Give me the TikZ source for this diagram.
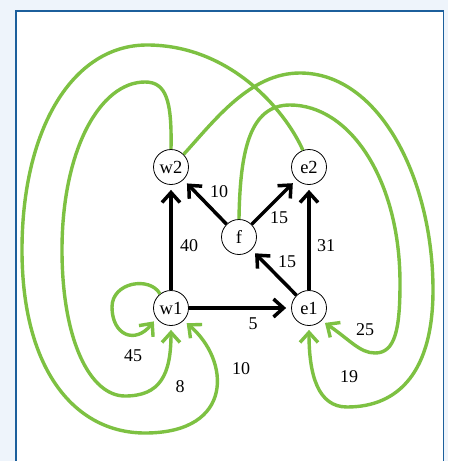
\documentclass[tikz,border=0pt]{standalone}
\usepackage{fontspec}
\setmainfont{Liberation Serif}
\usetikzlibrary{arrows.meta}
\definecolor{bgblue}{RGB}{238,244,251}
\definecolor{frameblue}{RGB}{28,95,156}
\definecolor{lgreen}{RGB}{125,193,66}
\begin{document}
\begin{tikzpicture}[x=1pt,y=-1pt,
  vert/.style={circle,draw,line width=0.8pt,minimum size=35pt,inner sep=0pt,font=\fontsize{18.5}{18.5}\selectfont,fill=white},
  lbl/.style={font=\fontsize{18}{18}\selectfont,inner sep=0pt},
  blk/.style={line width=3.5pt,-{Straight Barb[length=10pt,width=18pt]},shorten >=5pt},
  grn/.style={draw=lgreen,line width=3.4pt,-{Straight Barb[length=10pt,width=18pt]},shorten >=4pt}]
\fill[bgblue] (0,0) rectangle (448,461);
\useasboundingbox (0,0) rectangle (448,461);
\filldraw[fill=white,draw=frameblue,line width=1.5pt] (16,11) rectangle (443.5,475);

\node[vert] (w2) at (171,167) {w2};
\node[vert] (e2) at (309,167) {e2};
\node[vert] (f)  at (239,237) {f};
\node[vert] (w1) at (171,308) {w1};
\node[vert] (e1) at (309,308) {e1};

% black edges
\draw[blk] (w1) -- (w2);
\draw[blk] (f) -- (w2);
\draw[blk] (f) -- (e2);
\draw[blk] (e1) -- (f);
\draw[blk] (e1) -- (e2);
\draw[blk] (w1) -- (e1);

% green edges
\draw[grn] (w1.128) .. controls (150,276) and (112,282) .. (112,307)
  .. controls (112,335) and (135,345) .. (w1.215);
\draw[grn] (w2.north) .. controls (172,100) and (166,82) .. (145,82)
  .. controls (100,82) and (62,150) .. (62,250)
  .. controls (62,340) and (90,396) .. (125,396)
  .. controls (160,396) and (171,375) .. (w1.south);
\draw[grn] (e2.110) .. controls (285,110) and (230,45) .. (147,45)
  .. controls (72,45) and (22,130) .. (22,250)
  .. controls (22,370) and (75,433) .. (145,433)
  .. controls (235,433) and (230,360) .. (w1.-45);
\draw[grn] (w2.45) .. controls (215,120) and (250,73) .. (300,73)
  .. controls (380,73) and (433,180) .. (433,290)
  .. controls (433,370) and (400,407) .. (347,407)
  .. controls (318,407) and (309,375) .. (e1.south);
\draw[grn] (f.north) .. controls (240,150) and (250,105) .. (290,105)
  .. controls (350,105) and (400,180) .. (400,283)
  .. controls (400,330) and (395,353) .. (375,353)
  .. controls (360,353) and (350,340) .. (e1.-45);

% labels
\node[lbl] (l40) at (189,246) {40};
\node[lbl] (l10a) at (219,192) {10};
\node[lbl] (l15a) at (279,218) {15};
\node[lbl] (l15b) at (287,262) {15};
\node[lbl] (l31) at (326,246) {31};
\node[lbl] (l5) at (253,324) {5};
\node[lbl] (l45) at (133,356) {45};
\node[lbl] (l8) at (180,387) {8};
\node[lbl] (l10b) at (241,369) {10};
\node[lbl] (l19) at (349,377) {19};
\node[lbl] (l25) at (365,330) {25};
\end{tikzpicture}
\end{document}
